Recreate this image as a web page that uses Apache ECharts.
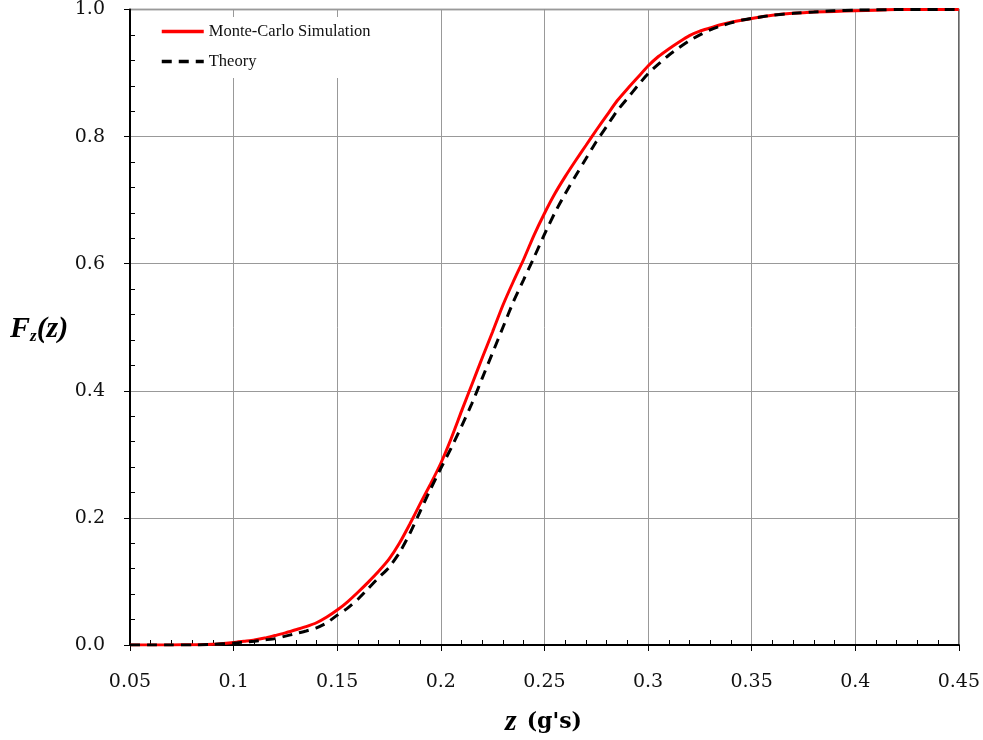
<!DOCTYPE html>
<html><head><meta charset="utf-8">
<script src="https://cdn.jsdelivr.net/npm/echarts@6/dist/echarts.min.js"></script>
<style>html,body{margin:0;padding:0;background:#fff}#c{width:983px;height:740px}</style>
</head><body><div id="c"></div>
<script>
var zValues = [0.05,0.06,0.07,0.08,0.09,0.10,0.105,0.11,0.115,0.12,0.125,0.13,0.135,0.14,0.145,0.15,0.155,0.16,0.165,0.17,0.175,0.18,0.185,0.19,0.195,0.20,0.205,0.21,0.215,0.22,0.225,0.23,0.235,0.24,0.245,0.25,0.255,0.26,0.265,0.27,0.275,0.28,0.285,0.29,0.295,0.30,0.305,0.31,0.315,0.32,0.325,0.33,0.335,0.34,0.345,0.35,0.36,0.37,0.38,0.39,0.40,0.41,0.42,0.45];
var monteCarlo = [0,0,0,0.0005,0.001,0.004,0.006,0.008,0.011,0.015,0.019,0.024,0.029,0.035,0.044,0.055,0.068,0.083,0.099,0.116,0.135,0.16,0.19,0.222,0.253,0.286,0.325,0.368,0.41,0.452,0.493,0.535,0.572,0.607,0.645,0.679,0.71,0.737,0.762,0.786,0.81,0.833,0.856,0.875,0.893,0.911,0.926,0.938,0.949,0.959,0.966,0.971,0.976,0.98,0.983,0.986,0.991,0.994,0.996,0.997,0.998,0.999,1,1];
var theory = [0,0,0,0,0.001,0.003,0.0045,0.006,0.008,0.010,0.014,0.018,0.022,0.027,0.035,0.047,0.058,0.072,0.089,0.106,0.122,0.145,0.175,0.21,0.245,0.278,0.31,0.344,0.38,0.42,0.46,0.5,0.54,0.575,0.61,0.646,0.68,0.71,0.738,0.765,0.792,0.816,0.84,0.86,0.88,0.899,0.914,0.928,0.94,0.951,0.96,0.968,0.974,0.979,0.983,0.986,0.991,0.994,0.996,0.998,0.999,0.9995,1,1];
var seriesNames = ['Monte-Carlo Simulation','Theory'];

function pairs(xs, ys){ return xs.map(function(x,i){ return [x, ys[i]]; }); }

var chart = echarts.init(document.getElementById('c'), null, {renderer:'canvas'});
chart.setOption({
  animation:false,
  backgroundColor:'#fff',
  grid:{left:130,right:24,top:9,bottom:95,show:true,borderColor:'#555',borderWidth:1.5,backgroundColor:'transparent'},
  legend:{
    orient:'vertical',left:150,top:17,itemWidth:42,itemHeight:12,itemGap:13,
    backgroundColor:'#fff',padding:[6,10,8,10],
    itemStyle:{opacity:0},
    lineStyle:{width:3.5},
    textStyle:{fontFamily:'Liberation Serif',fontSize:16.5,color:'#111'},
    data:seriesNames
  },
  xAxis:{
    type:'value',min:0.05,max:0.45,interval:0.05,
    axisLine:{lineStyle:{color:'#000',width:2}},
    axisTick:{show:true,length:6,lineStyle:{color:'#000',width:1}},
    minorTick:{show:true,splitNumber:5,length:-5,lineStyle:{color:'#000',width:1}},
    axisLabel:{fontFamily:'DejaVu Serif',fontSize:19,color:'#111',margin:28,
      formatter:function(v){return String(parseFloat(v.toFixed(2)));}},
    splitLine:{show:true,lineStyle:{color:'#999',width:1}}
  },
  yAxis:{
    type:'value',min:0,max:1,interval:0.2,
    axisLine:{lineStyle:{color:'#000',width:2}},
    axisTick:{show:true,length:6,lineStyle:{color:'#000',width:1}},
    minorTick:{show:true,splitNumber:5,length:-5,lineStyle:{color:'#000',width:1}},
    axisLabel:{fontFamily:'DejaVu Serif',fontSize:19,color:'#111',margin:25,
      formatter:function(v){return v.toFixed(1);}},
    splitLine:{show:true,lineStyle:{color:'#999',width:1}}
  },
  graphic:[
    {type:'text',left:10,top:314,style:{
      text:'{a|F}{b|z}{a|(z)}',
      rich:{
        a:{fontFamily:'Liberation Serif',fontStyle:'italic',fontWeight:'bold',fontSize:30,fill:'#000'},
        b:{fontFamily:'Liberation Serif',fontStyle:'italic',fontWeight:'bold',fontSize:17,fill:'#000',padding:[16,0,0,0]}
      }}},
    {type:'text',left:505,top:707,style:{
      text:'{a|z}{c|(g\'s)}',
      rich:{
        a:{fontFamily:'Liberation Serif',fontStyle:'italic',fontWeight:'bold',fontSize:30,fill:'#000',padding:[0,10,0,0]},
        c:{fontFamily:'DejaVu Serif',fontWeight:'bold',fontSize:22,fill:'#000'}
      }}}
  ],
  series:[
    {name:seriesNames[0],type:'line',data:pairs(zValues,monteCarlo),showSymbol:false,symbol:'none',smooth:0.2,
     lineStyle:{color:'#ff0000',width:3},itemStyle:{color:'#ff0000'},z:3},
    {name:seriesNames[1],type:'line',data:pairs(zValues,theory),showSymbol:false,symbol:'none',smooth:0.2,
     lineStyle:{color:'#000',width:3,type:[10,7]},itemStyle:{color:'#000'},z:4}
  ]
});
</script></body></html>
